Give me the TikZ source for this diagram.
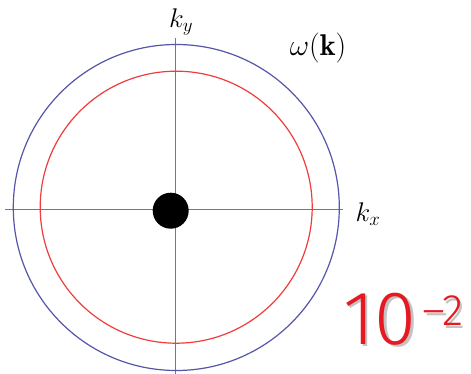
\RequirePackage{fix-cm}
\documentclass[tikz,border=0pt]{standalone}
\usepackage{amsmath}
\usepackage{fontspec}
\newfontfamily\handfont{Fira Sans Light}
\definecolor{circblue}{RGB}{85,85,170}
\definecolor{circred}{RGB}{240,60,60}
\definecolor{axisgray}{RGB}{120,120,120}
\definecolor{handred}{RGB}{230,25,35}
\definecolor{shadowgray}{RGB}{195,195,195}
\newcommand{\shadowed}[1]{{\color{shadowgray}\rlap{\kern2.5pt\raisebox{-2.5pt}{#1}}}#1}
\tikzset{
  axisline/.style={draw=axisgray, line width=1.1pt},
  ring/.style={circle, draw, line width=1.2pt, inner sep=0pt},
  lbl/.style={inner sep=0pt, font=\fontsize{27}{31}\selectfont},
  hand/.style={inner sep=0pt, text=handred, font=\handfont\fontsize{#1}{#1}\selectfont}
}
\begin{document}
\begin{tikzpicture}[x=1pt,y=-1pt]
\useasboundingbox (0,0) rectangle (471,374);
% axes
\coordinate (xl) at (5,209.5);
\coordinate (xr) at (343,209.5);
\coordinate (yt) at (175.7,38);
\coordinate (yb) at (175.7,374);
\draw[axisline] (xl) -- (xr);
\draw[axisline] (yt) -- (yb);
% circles
\node[ring, draw=circblue, minimum size=326pt] (outer) at (176.3,207.5) {};
\node[ring, draw=circred, minimum size=272pt] (inner) at (176.2,207.2) {};
% dot
\node[circle, fill=black, inner sep=0pt, minimum size=36pt] (dot) at (170.7,210.7) {};
% labels
\node[lbl] (ky) at (181,22) {$k_y$};
\node[lbl] (kx) at (368,214) {$k_x$};
\node[lbl, font=\fontsize{30}{34}\selectfont] (omega) at (318,48) {$\omega(\mathbf{k})$};
% handwritten 10^-2
\node[hand=76] (ten) at (380,320) {\shadowed{10}};
\node[hand=44] (exp) at (443,312) {\shadowed{–2}};
\end{tikzpicture}
\end{document}
